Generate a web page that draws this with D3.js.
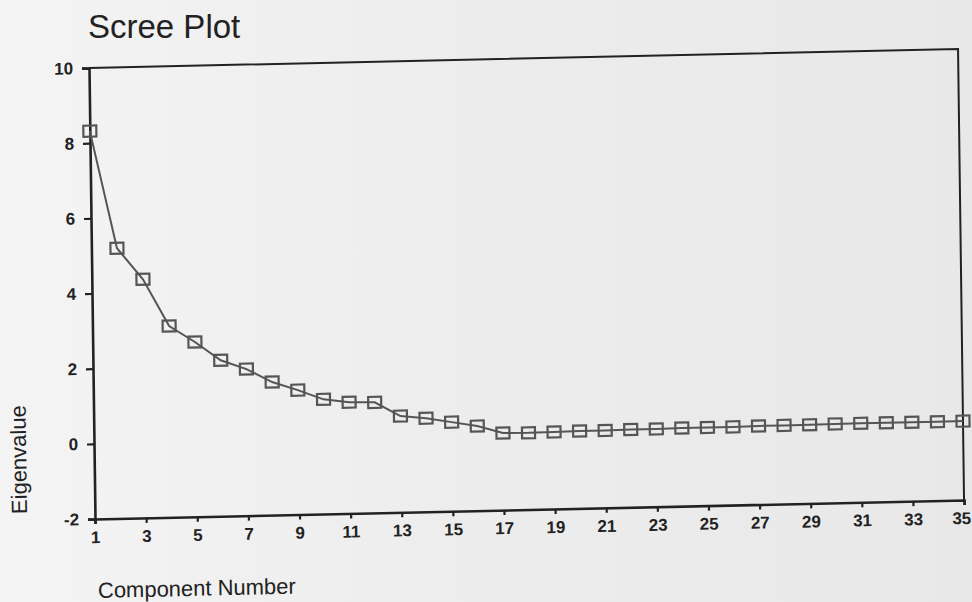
<!DOCTYPE html>
<meta charset="utf-8">
<style>
  body {
    margin: 0;
    background: #ececec;
    font-family: "Liberation Sans", Arial, Helvetica, sans-serif;
  }
  text {
    fill: #222;
  }
</style>
<body>
<script src="https://cdn.jsdelivr.net/npm/d3@7"></script>
<script>

// component numbers 1..35
var components = [1, 2, 3, 4, 5, 6, 7, 8, 9, 10, 11, 12, 13, 14, 15, 16, 17, 18,
                  19, 20, 21, 22, 23, 24, 25, 26, 27, 28, 29, 30, 31, 32, 33, 34, 35];

// eigenvalues
var eigenvalues = [8.32, 5.19, 4.35, 3.09, 2.65, 2.15, 1.90, 1.54, 1.31, 1.05, 0.96, 0.94,
                   0.56, 0.49, 0.37, 0.25, 0.05, 0.04, 0.05, 0.06, 0.06, 0.07, 0.07, 0.08,
                   0.08, 0.08, 0.09, 0.09, 0.09, 0.10, 0.10, 0.10, 0.10, 0.10, 0.10];

var xTicks = [1, 3, 5, 7, 9, 11, 13, 15, 17, 19, 21, 23, 25, 27, 29, 31, 33, 35];
var yTicks = [-2, 0, 2, 4, 6, 8, 10];

var width = 972,
    height = 602,
    plotW = 870,
    plotH = 451;

var svg = d3.select("body").append("svg")
    .attr("width", width)
    .attr("height", height);

// scanned page look: slightly lighter on the left
var grad = svg.append("defs").append("linearGradient")
    .attr("id", "paper");
grad.append("stop").attr("offset", "0%").attr("stop-color", "#f4f4f4");
grad.append("stop").attr("offset", "45%").attr("stop-color", "#ededed");
grad.append("stop").attr("offset", "100%").attr("stop-color", "#e8e8e8");

svg.append("rect")
    .attr("width", width)
    .attr("height", height)
    .attr("fill", "url(#paper)");

svg.append("text")
    .attr("x", 88)
    .attr("y", 38)
    .style("font-size", "33px")
    .text("Scree Plot");

// the scan is a little tilted, so the chart sits in a skewed frame
var g = svg.append("g")
    .attr("transform", "matrix(0.9989,-0.0218,0.0133,1,89,68)");

var x = d3.scaleLinear()
    .domain([1, 35])
    .range([0, plotW]);

var y = d3.scaleLinear()
    .domain([-2, 10])
    .range([plotH, 0]);

// box: top and right sides
g.append("path")
    .attr("d", "M0,0H" + plotW + "V" + plotH)
    .attr("fill", "none")
    .attr("stroke", "#222")
    .attr("stroke-width", 2);

var xAxis = g.append("g")
    .attr("transform", "translate(0," + plotH + ")")
    .call(d3.axisBottom(x).tickValues(xTicks).tickSize(5).tickPadding(7).tickFormat(String));

var yAxis = g.append("g")
    .call(d3.axisLeft(y).tickValues(yTicks).tickSize(7).tickPadding(9).tickFormat(String));

[xAxis, yAxis].forEach(function(a) {
    a.select(".domain").attr("stroke", "#222").attr("stroke-width", 2.6);
    a.selectAll(".tick line").attr("stroke", "#222").attr("stroke-width", 2.2);
    a.selectAll(".tick text")
        .attr("fill", "#222")
        .attr("font-size", 17)
        .attr("font-weight", "bold")
        .attr("font-family", "'Liberation Sans', Arial, sans-serif");
});

// last label sits right at the page edge
xAxis.selectAll(".tick text").filter(function(d) { return d === 35; }).attr("dx", -3);

var data = components.map(function(c, i) { return {c: c, v: eigenvalues[i]}; });

var line = d3.line()
    .x(function(d) { return x(d.c); })
    .y(function(d) { return y(d.v); });

g.append("path")
    .datum(data)
    .attr("d", line)
    .attr("fill", "none")
    .attr("stroke", "#555")
    .attr("stroke-width", 2);

g.selectAll("rect.pt")
    .data(data)
    .enter().append("rect")
    .attr("class", "pt")
    .attr("x", function(d) { return x(d.c) - 6.5; })
    .attr("y", function(d) { return y(d.v) - 5.5; })
    .attr("width", 13)
    .attr("height", 11)
    .attr("fill", "none")
    .attr("stroke", "#555")
    .attr("stroke-width", 2.2);

g.append("text")
    .attr("x", 2)
    .attr("y", 530)
    .style("font-size", "22px")
    .text("Component Number");

g.append("text")
    .attr("transform", "translate(-68,390) rotate(-90)")
    .attr("text-anchor", "middle")
    .style("font-size", "22px")
    .text("Eigenvalue");

</script>
</body>
